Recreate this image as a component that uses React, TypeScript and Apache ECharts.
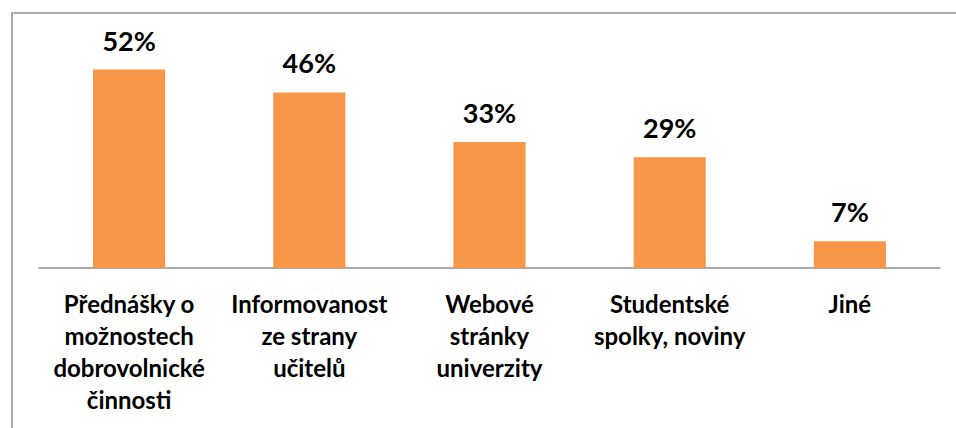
import React, { useEffect, useRef } from "react";
import * as echarts from "echarts";

const categories = [
  "Přednášky o\nmožnostech\ndobrovolnické\nčinnosti",
  "Informovanost\nze strany\nučitelů",
  "Webové\nstránky\nuniverzity",
  "Studentské\nspolky, noviny",
  "Jiné",
];
const values = [52, 46, 33, 29, 7];
const yMax = 60;

export default function App() {
  const ref = useRef<HTMLDivElement>(null);
  useEffect(() => {
    if (!ref.current) return;
    const chart = echarts.init(ref.current, null, { renderer: "svg" });
    chart.setOption({
      animation: false,
      backgroundColor: "#ffffff",
      grid: { left: 39, right: 16, top: 39, bottom: 160, containLabel: false },
      graphic: [
        {
          type: "rect",
          left: 9.5,
          top: 10.5,
          shape: { x: 0, y: 0, width: 2000, height: 2000 },
          style: { fill: "none", stroke: "#8e8e8e", lineWidth: 1.5 },
          silent: true,
          z: -1,
        },
      ],
      xAxis: {
        type: "category",
        data: categories,
        axisLine: { show: true, lineStyle: { color: "#8e8e8e", width: 1.5 } },
        axisTick: { show: false },
        axisLabel: {
          interval: 0,
          margin: 19,
          color: "#000000",
          fontFamily: "Lato",
          fontWeight: "bold",
          fontSize: 24,
          lineHeight: 32,
          align: "center",
        },
      },
      yAxis: {
        type: "value",
        min: 0,
        max: yMax,
        show: false,
        splitLine: { show: false },
      },
      series: [
        {
          type: "bar",
          data: values,
          barWidth: "40%",
          itemStyle: { color: "#F79646" },
          label: {
            show: true,
            position: "top",
            distance: 16,
            formatter: "{c}%",
            color: "#000000",
            fontFamily: "Lato",
            fontWeight: "bold",
            fontSize: 27,
            lineHeight: 27,
          },
        },
      ],
    });
    return () => chart.dispose();
  }, []);
  return (
    <div
      ref={ref}
      style={{ position: "absolute", left: 0, top: 0, width: 956, height: 428 }}
    />
  );
}
